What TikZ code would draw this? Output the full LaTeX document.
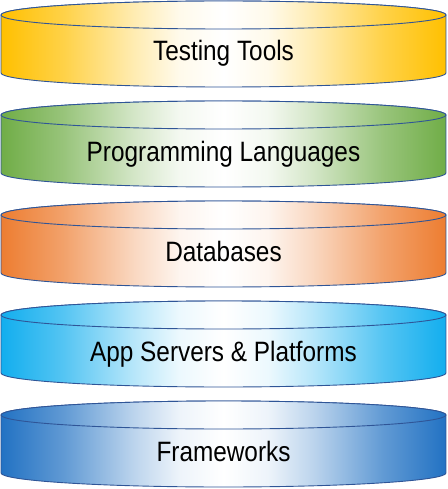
\documentclass[tikz,border=0pt]{standalone}
\usepackage{fontspec}
\setmainfont{Liberation Sans}[FakeStretch=0.87]
\definecolor{cY}{HTML}{FFC000}
\definecolor{cG}{HTML}{70AD47}
\definecolor{cO}{HTML}{ED7D31}
\definecolor{cC}{HTML}{12AEEE}
\definecolor{cB}{HTML}{2272C3}
\definecolor{outl}{HTML}{2F5597}
\newcommand\myshade[2]{%
  \pgfdeclarehorizontalshading{#1}{100bp}{color(0bp)=(#2); color(25bp)=(#2); color(32bp)=(#2!72!white); color(40bp)=(#2!30!white); color(45bp)=(#2!8!white); color(50bp)=(white); color(55bp)=(#2!8!white); color(60bp)=(#2!30!white); color(68bp)=(#2!72!white); color(75bp)=(#2); color(100bp)=(#2)}}
\myshade{shY}{cY}
\myshade{shG}{cG}
\myshade{shO}{cO}
\myshade{shC}{cC}
\myshade{shB}{cB}
\newcommand\mycyl[4]{%
  \path[cylpart, shading=#2] (1,#1+15) -- (1,#1+73)
    arc[start angle=180, end angle=0, x radius=222.5, y radius=14]
    -- (446,#1+15)
    arc[start angle=0, end angle=-180, x radius=222.5, y radius=14] -- cycle;
  \path[cylpart, shading=#2] (223.5,#1+15) ellipse[x radius=222.5, y radius=14];
  \node[label] (#4) at (223.5,#1+61) {#3};
}
\begin{document}
\begin{tikzpicture}[x=1pt, y=-1pt,
  cylpart/.style={draw=outl, line width=0.9pt},
  label/.style={anchor=base, inner sep=0pt, font=\fontsize{28}{32}\selectfont, text=black}]
\useasboundingbox (0,0) rectangle (447,489);
\mycyl{0}{shY}{Testing Tools}{t1}
\mycyl{100}{shG}{Programming Languages}{t2}
\mycyl{200}{shO}{Databases}{t3}
\mycyl{300}{shC}{App Servers \& Platforms}{t4}
\mycyl{400}{shB}{Frameworks}{t5}
\end{tikzpicture}
\end{document}
